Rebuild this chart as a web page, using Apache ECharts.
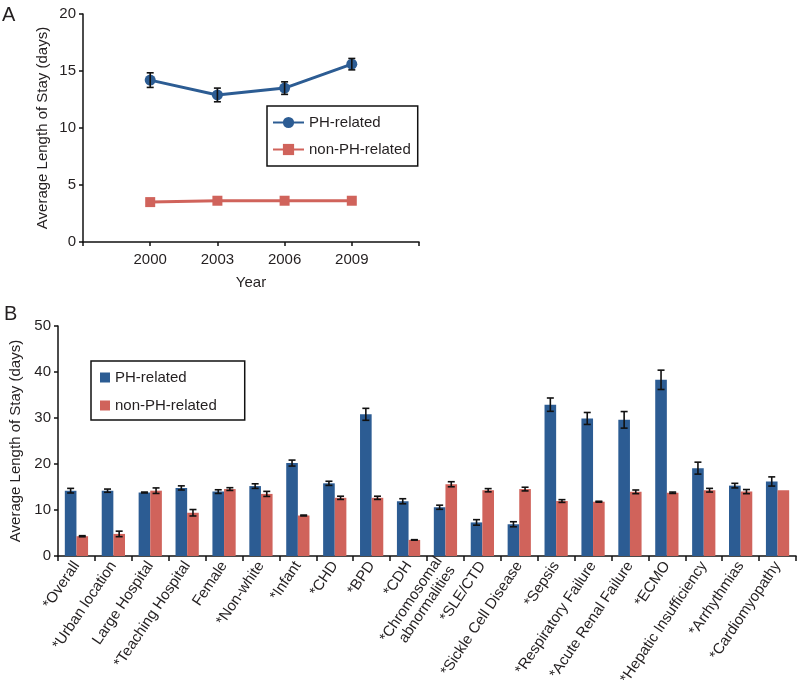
<!DOCTYPE html>
<html>
<head>
<meta charset="utf-8">
<script src="https://cdn.jsdelivr.net/npm/echarts@6/dist/echarts.min.js"></script>
<style>
html,body{margin:0;padding:0;background:#fff;}
#chart{width:800px;height:689px;}
</style>
</head>
<body>
<div id="chart"></div>
<script>
// ---------- Panel A data ----------
var yearsA = ['', '2000', '2003', '2006', '2009', ''];
var phA = [null, 14.2, 12.9, 13.5, 15.6, null];
var phAErr = [null, 0.64, 0.6, 0.55, 0.5, null];
var nonA = [null, 3.5, 3.62, 3.62, 3.62, null];

// ---------- Panel B data ----------
var categoriesB = ['*Overall', '*Urban location', 'Large Hospital', '*Teaching Hospital', 'Female',
  '*Non-white', '*Infant', '*CHD', '*BPD', '*CDH', '*Chromosomal\nabnormalities', '*SLE/CTD',
  '*Sickle Cell Disease', '*Sepsis', '*Respiratory Failure', '*Acute Renal Failure', '*ECMO',
  '*Hepatic Insufficiency', '*Arrhythmias', '*Cardiomyopathy'];
var phB = [14.2, 14.2, 13.8, 14.8, 14.0, 15.2, 20.2, 15.8, 30.8, 11.9, 10.6, 7.3, 6.9, 32.9, 29.9, 29.6, 38.3, 19.1, 15.3, 16.2];
var phBErr = [0.5, 0.35, 0.1, 0.45, 0.4, 0.5, 0.65, 0.45, 1.3, 0.55, 0.45, 0.6, 0.55, 1.45, 1.3, 1.8, 2.1, 1.3, 0.5, 1.0];
var nonB = [4.3, 4.8, 14.2, 9.4, 14.55, 13.5, 8.8, 12.65, 12.65, 3.5, 15.6, 14.3, 14.55, 11.95, 11.8, 13.95, 13.75, 14.3, 14.0, 14.3];
var nonBErr = [0.12, 0.6, 0.6, 0.7, 0.3, 0.55, 0.1, 0.35, 0.35, 0.05, 0.55, 0.35, 0.4, 0.3, 0.1, 0.4, 0.15, 0.4, 0.45, 0];

var BLUE = '#2c5c93';
var RED = '#d0635b';
var FONT = 'Liberation Sans, Arial, Helvetica, sans-serif';
var TXT = '#231f20';
var GAP = 0.37;

function errData(vals, errs) {
  var out = [];
  for (var i = 0; i < vals.length; i++) {
    if (vals[i] == null || !errs[i]) continue;
    out.push([i, vals[i] - errs[i], vals[i] + errs[i]]);
  }
  return out;
}

function makeErrRender(side, capW) {
  return function (params, api) {
    var x = api.value(0);
    var lo = api.coord([x, api.value(1)]);
    var hi = api.coord([x, api.value(2)]);
    var off = 0;
    if (side !== 0) {
      var band = api.size([1, 0])[0];
      var bw = band * (1 - GAP) / 2;
      off = side * bw / 2;
    }
    var cx = lo[0] + off;
    var st = { stroke: '#111', lineWidth: 1.6 };
    return {
      type: 'group',
      children: [
        { type: 'line', shape: { x1: cx, y1: lo[1], x2: cx, y2: hi[1] }, style: st },
        { type: 'line', shape: { x1: cx - capW, y1: lo[1], x2: cx + capW, y2: lo[1] }, style: st },
        { type: 'line', shape: { x1: cx - capW, y1: hi[1], x2: cx + capW, y2: hi[1] }, style: st }
      ]
    };
  };
}

var axisLine = { show: true, lineStyle: { color: '#111', width: 1.5 } };
var axisTick = { show: true, length: 4, lineStyle: { color: '#111', width: 1.5 } };

var option = {
  animation: false,
  backgroundColor: '#fff',
  textStyle: { fontFamily: FONT, color: TXT },
  title: [
    { text: 'A', left: -3, top: 0, textStyle: { fontFamily: FONT, fontSize: 20, fontWeight: 'normal', color: TXT } },
    { text: 'B', left: -1, top: 299, textStyle: { fontFamily: FONT, fontSize: 20, fontWeight: 'normal', color: TXT } }
  ],
  grid: [
    { left: 83, top: 14, width: 336, height: 228 },
    { left: 58, top: 326, width: 738, height: 230 }
  ],
  legend: [
    {
      orient: 'vertical', left: 267, top: 106,
      data: ['PH-related', 'non-PH-related'],
      itemWidth: 31, itemHeight: 14, itemGap: 12,
      padding: [9, 7, 9, 5],
      borderColor: '#111', borderWidth: 1.5,
      textStyle: { fontFamily: FONT, fontSize: 15, color: TXT }
    },
    {
      orient: 'vertical', left: 91, top: 361,
      data: [{ name: 'PH-related (B)', icon: 'rect' }, { name: 'non-PH-related (B)', icon: 'rect' }],
      itemWidth: 10, itemHeight: 10, itemGap: 13,
      padding: [9, 28, 7, 9],
      borderColor: '#111', borderWidth: 1.5,
      formatter: function (n) { return n.replace(' (B)', ''); },
      textStyle: { fontFamily: FONT, fontSize: 15, color: TXT }
    }
  ],
  xAxis: [
    {
      type: 'category', gridIndex: 0, data: yearsA, boundaryGap: false,
      name: 'Year', nameLocation: 'middle', nameGap: 33,
      nameTextStyle: { fontFamily: FONT, fontSize: 15, color: TXT },
      axisLine: axisLine, axisTick: axisTick,
      axisLabel: { fontFamily: FONT, fontSize: 15, color: TXT, margin: 10, interval: 0 },
      splitLine: { show: false }
    },
    {
      type: 'category', gridIndex: 1, data: categoriesB, boundaryGap: true,
      axisLine: axisLine, axisTick: { show: true, length: 5, lineStyle: { color: '#111', width: 1.5 } },
      axisLabel: { fontFamily: FONT, fontSize: 15, color: TXT, rotate: 56, margin: 7, interval: 0, lineHeight: 16 },
      splitLine: { show: false }
    }
  ],
  yAxis: [
    {
      type: 'value', gridIndex: 0, min: 0, max: 20, interval: 5,
      name: 'Average Length of Stay (days)', nameLocation: 'middle', nameGap: 33,
      nameTextStyle: { fontFamily: FONT, fontSize: 15, color: TXT },
      axisLine: axisLine, axisTick: axisTick,
      axisLabel: { fontFamily: FONT, fontSize: 15, color: TXT, margin: 7 },
      splitLine: { show: false }
    },
    {
      type: 'value', gridIndex: 1, min: 0, max: 50, interval: 10,
      name: 'Average Length of Stay (days)', nameLocation: 'middle', nameGap: 30,
      nameTextStyle: { fontFamily: FONT, fontSize: 15, color: TXT },
      axisLine: axisLine, axisTick: axisTick,
      axisLabel: { fontFamily: FONT, fontSize: 15, color: TXT, margin: 7 },
      splitLine: { show: false }
    }
  ],
  series: [
    {
      name: 'PH-related', type: 'line', xAxisIndex: 0, yAxisIndex: 0, data: phA,
      symbol: 'circle', symbolSize: 11, color: BLUE,
      lineStyle: { width: 3, color: BLUE }, itemStyle: { color: BLUE }, z: 3
    },
    {
      name: 'non-PH-related', type: 'line', xAxisIndex: 0, yAxisIndex: 0, data: nonA,
      symbol: 'rect', symbolSize: 10, color: RED,
      lineStyle: { width: 3, color: RED }, itemStyle: { color: RED }, z: 3
    },
    {
      name: 'errA', type: 'custom', xAxisIndex: 0, yAxisIndex: 0,
      data: errData(phA, phAErr), renderItem: makeErrRender(0, 3.5), z: 5, silent: true
    },
    {
      name: 'PH-related (B)', type: 'bar', xAxisIndex: 1, yAxisIndex: 1, data: phB,
      color: BLUE, itemStyle: { color: BLUE }, barGap: '0%', barCategoryGap: (GAP * 100) + '%'
    },
    {
      name: 'non-PH-related (B)', type: 'bar', xAxisIndex: 1, yAxisIndex: 1, data: nonB,
      color: RED, itemStyle: { color: RED }, barGap: '0%', barCategoryGap: (GAP * 100) + '%'
    },
    {
      name: 'errB1', type: 'custom', xAxisIndex: 1, yAxisIndex: 1,
      data: errData(phB, phBErr), renderItem: makeErrRender(-1, 3.5), z: 5, silent: true
    },
    {
      name: 'errB2', type: 'custom', xAxisIndex: 1, yAxisIndex: 1,
      data: errData(nonB, nonBErr), renderItem: makeErrRender(1, 3.5), z: 5, silent: true
    }
  ]
};

var chart = echarts.init(document.getElementById('chart'), null, { renderer: 'canvas' });
chart.setOption(option);
</script>
</body>
</html>
